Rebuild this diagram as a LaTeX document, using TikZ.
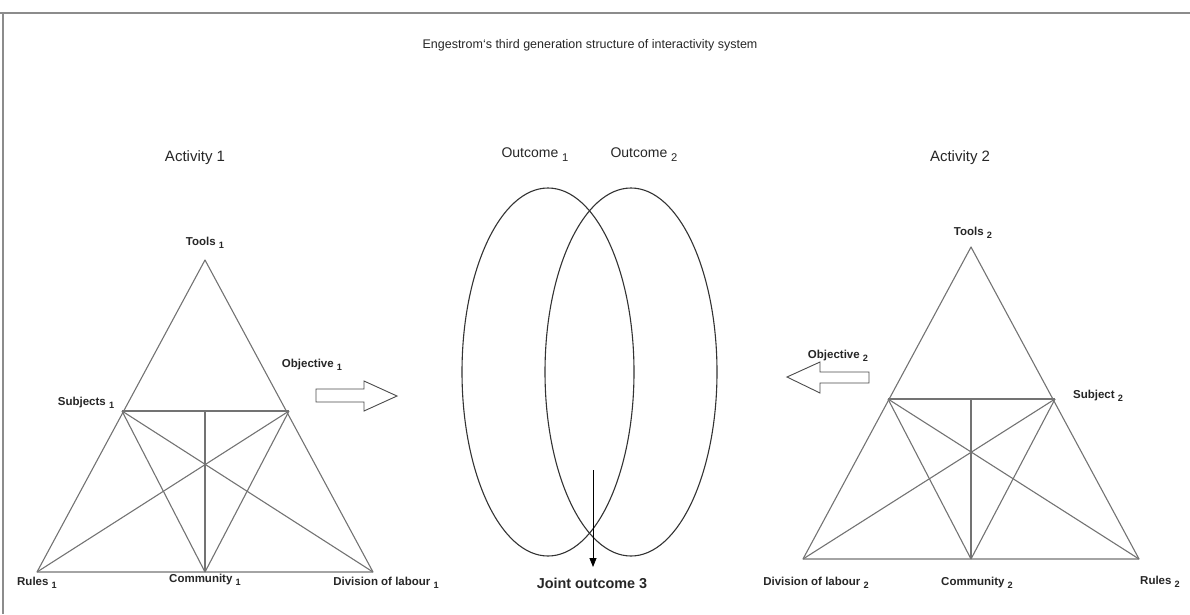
\documentclass[tikz,border=0pt]{standalone}
\usepackage{fontspec}
\setmainfont{Liberation Sans}
\usetikzlibrary{arrows.meta,shapes.geometric}
% lowered index after a label, a little smaller than the label
\newcommand{\idx}[1]{\ \raisebox{-0.3em}{\scalebox{0.8}{#1}}}
\begin{document}
\begin{tikzpicture}[x=1pt,y=-1pt,
  edge/.style={draw=black!55, line width=1.1pt, line join=round},
  ring/.style={draw=black!80, line width=1.1pt},
  frame/.style={draw=black!45},
  lbl/.style={font=\fontsize{11.5}{12}\selectfont\bfseries, inner sep=0pt, text=black!85},
  heading/.style={font=\fontsize{15}{16}\selectfont, inner sep=0pt, text=black!85},
  outlbl/.style={font=\fontsize{14}{15}\selectfont, inner sep=0pt, text=black!85},
  blockarrow/.style={draw=black!70, line width=0.9pt, fill=white, line join=miter}]
\useasboundingbox (0,0) rectangle (1190,614);

% page frame (top and left edges)
\draw[frame, line width=2.4pt] (0,13) -- (1190,13);
\draw[frame, line width=1.4pt] (3,13) -- (3,614);

% title
\node[font=\fontsize{12.5}{13}\selectfont, inner sep=0pt, text=black!85] (title) at (590,45)
  {Engestrom\symbol{"60}s third generation structure of interactivity system};

% ---------- activity system 1 ----------
\coordinate (t1) at (205,260);
\coordinate (s1) at (122,411);
\coordinate (o1) at (289,411);
\coordinate (r1) at (37,572);
\coordinate (c1) at (205,572);
\coordinate (d1) at (373,572);
\coordinate (m1) at (205,411);
\draw[edge] (t1) -- (r1) -- (d1) -- cycle;
\draw[edge] (s1) -- (o1);
\draw[edge] (m1) -- (c1);
\draw[edge] (s1) -- (c1);
\draw[edge] (s1) -- (d1);
\draw[edge] (o1) -- (c1);
\draw[edge] (o1) -- (r1);

\node[heading] (act1) at (195,158) {Activity 1};
\node[lbl] (tools1) at (205,243) {Tools\idx{1}};
\node[lbl] (obj1) at (312,365) {Objective\idx{1}};
\node[lbl] (subj1) at (86,403) {Subjects\idx{1}};
\node[lbl] (rules1) at (37,583) {Rules\idx{1}};
\node[lbl] (comm1) at (205,580) {Community\idx{1}};
\node[lbl] (div1) at (386,583) {Division of labour\idx{1}};

% block arrow pointing right
\draw[blockarrow] (316,389) -- (364,389) -- (364,381) -- (397,396) -- (364,411)
  -- (364,402) -- (316,402) -- cycle;

% ---------- outcomes ----------
\node[ring, ellipse, minimum width=172pt, minimum height=368pt, inner sep=0pt] (e1) at (548,372) {};
\node[ring, ellipse, minimum width=172pt, minimum height=368pt, inner sep=0pt] (e2) at (631,372) {};
\node[outlbl] (out1) at (535,155) {Outcome\idx{1}};
\node[outlbl] (out2) at (644,155) {Outcome\idx{2}};
\node[font=\fontsize{14.4}{15}\selectfont\bfseries, inner sep=0pt, text=black!85] (joint) at (592,583) {Joint outcome 3};
\coordinate (jstart) at (593,470);
\draw[line width=0.9pt, -{Triangle[length=9pt,width=7pt]}] (jstart) -- (593,567);

% ---------- activity system 2 ----------
\coordinate (t2) at (971,247);
\coordinate (o2) at (888,399);
\coordinate (s2) at (1055,399);
\coordinate (d2) at (803,559);
\coordinate (c2) at (971,559);
\coordinate (r2) at (1139,559);
\coordinate (m2) at (971,399);
\draw[edge] (t2) -- (d2) -- (r2) -- cycle;
\draw[edge] (o2) -- (s2);
\draw[edge] (m2) -- (c2);
\draw[edge] (o2) -- (c2);
\draw[edge] (o2) -- (r2);
\draw[edge] (s2) -- (c2);
\draw[edge] (s2) -- (d2);

\node[heading] (act2) at (960,158) {Activity 2};
\node[lbl] (tools2) at (973,233) {Tools\idx{2}};
\node[lbl] (obj2) at (838,356) {Objective\idx{2}};
\node[lbl] (subj2) at (1098,396) {Subject\idx{2}};
\node[lbl] (div2) at (816,583) {Division of labour\idx{2}};
\node[lbl] (comm2) at (977,583) {Community\idx{2}};
\node[lbl] (rules2) at (1160,582) {Rules\idx{2}};

% block arrow pointing left
\draw[blockarrow] (869,372) -- (820,372) -- (820,362) -- (787,377) -- (820,393)
  -- (820,383) -- (869,383) -- cycle;
\end{tikzpicture}
\end{document}
